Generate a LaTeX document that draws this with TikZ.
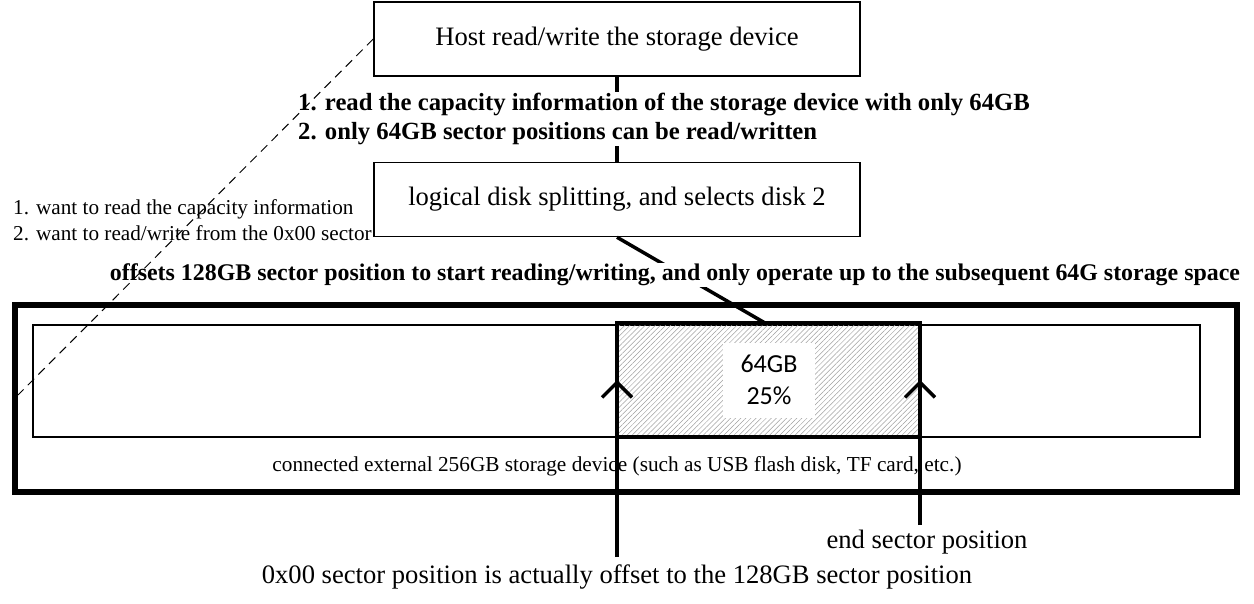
\documentclass[tikz,border=0pt]{standalone}
\usepackage{fontspec}
\setmainfont{Liberation Serif}
\newfontfamily\calib{Carlito}
\usetikzlibrary{patterns.meta,arrows.meta}
\tikzset{
  plainbox/.style={draw,line width=1.5pt,minimum width=486pt,minimum height=74pt,inner sep=0pt,font=\fontsize{26.6}{30}\selectfont},
  boldlbl/.style={fill=white,inner sep=1pt,font=\bfseries\fontsize{24.7}{29}\selectfont},
  thickln/.style={line width=3.5pt},
  uparrow/.style={line width=4pt,-{Straight Barb[length=15pt,width=30pt,line width=3.5pt]}}
}
\begin{document}
\begin{tikzpicture}[x=1pt,y=-1pt]
\useasboundingbox (0,0) rectangle (1254,604);
% host and logical boxes
\node[plainbox] (host) at (617,39) {Host read/write the storage device};
\node[plainbox] (logic) at (617,199.5) {logical disk splitting, and selects disk 2};
\draw[thickln] (host.south) -- (logic.north);
\node[boldlbl,align=left] (t1) at (664,119) {1. read the capacity information of the storage device with only 64GB\\2. only 64GB sector positions can be read/written};
% outer storage device
\draw[line width=6pt] (15,305) rectangle (1237,492);
\draw[line width=1.5pt] (33,325) rectangle (1200,437);
\node[draw=none,minimum width=303pt,minimum height=114pt,inner sep=0pt,pattern={Lines[angle=45,distance=3.6pt,line width=0.5pt]},pattern color=gray!75] (hatch) at (768.5,380) {};
\draw[line width=4pt] (hatch.south west) rectangle (hatch.north east);
\node[fill=white,minimum width=92pt,minimum height=75pt,align=center,font=\calib\fontsize{26}{32}\selectfont] (pct) at (769,380) {64GB\\25\%};
\coordinate (ltop) at (617,380);
\coordinate (rtop) at (920,380);
\coordinate (lbot) at (617,557);
\coordinate (rbot) at (920,525);
\draw[uparrow] (lbot) -- (ltop);
\draw[uparrow] (rbot) -- (rtop);
% diagonal from logic to hatched top
\coordinate (hmid) at (765,323);
\draw[thickln] (logic.south) -- (hmid);
\node[boldlbl,font=\bfseries\fontsize{23.9}{29}\selectfont] (t2) at (675,275) {offsets 128GB sector position to start reading/writing, and only operate up to the subsequent 64G storage space};
% texts
\node[font=\fontsize{21.3}{26}\selectfont] (dev) at (617,466) {connected external 256GB storage device (such as USB flash disk, TF card, etc.)};
\node[font=\fontsize{26.6}{30}\selectfont] (endt) at (927,542) {end sector position};
\node[font=\fontsize{26.6}{30}\selectfont] (zero) at (617,577) {0x00 sector position is actually offset to the 128GB sector position};
\node[font=\fontsize{21.2}{26}\selectfont,align=left,anchor=west,inner sep=0pt] (left) at (13,220) {1. want to read the capacity information\\2. want to read/write from the 0x00 sector};
% dashed line
\coordinate (dend) at (18,395);
\draw[dashed,line width=1pt,dash pattern=on 9pt off 6pt] (host.west) -- (dend);
\end{tikzpicture}
\end{document}
